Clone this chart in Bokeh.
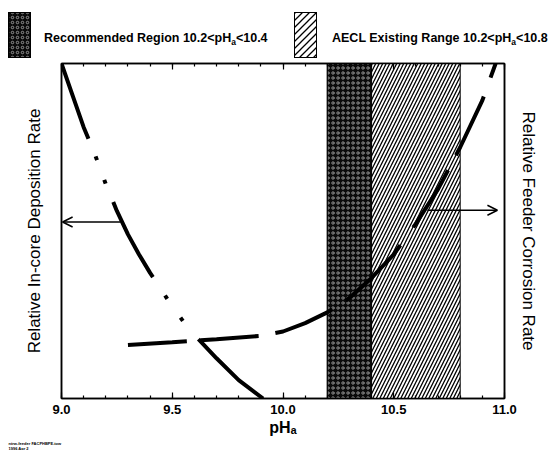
from bokeh.plotting import figure
from bokeh.models import (Range1d, LinearAxis, SingleIntervalTicker, FixedTicker,
                          Arrow, OpenHead, Title, Div)
from bokeh.layouts import column
from bokeh.embed import file_html
from bokeh.resources import INLINE

FONT = "Liberation Sans"

# ---------------- data ----------------
dep_ph = [9.00, 9.05, 9.10, 9.15, 9.20, 9.25, 9.30, 9.35, 9.40, 9.45, 9.50,
          9.55, 9.60, 9.70, 9.80, 9.91]
dep_rate = [1.00, 0.905, 0.81, 0.73, 0.64, 0.56, 0.49, 0.43, 0.375, 0.325,
            0.275, 0.23, 0.19, 0.12, 0.055, 0.0]

cor_ph = [9.30, 9.50, 9.70, 9.90, 10.00, 10.10, 10.20, 10.30, 10.40, 10.50,
          10.60, 10.70, 10.80, 10.90, 10.96]
cor_rate = [0.160, 0.168, 0.177, 0.187, 0.200, 0.225, 0.257, 0.300, 0.360,
            0.430, 0.522, 0.625, 0.750, 0.890, 1.000]

recommended_range = [10.2, 10.4]
aecl_range = [10.2, 10.8]

tick_values = [9.0, 9.5, 10.0, 10.5, 11.0]
tick_labels = ["9.0", "9.5", "10.0", "10.5", "11.0"]

dep_arrow = [9.266, 9.005, 0.527]    # start pH, end pH, level
cor_arrow = [10.652, 10.968, 0.562]  # start pH, end pH, level

legend_names = ["Recommended Region", "AECL Existing Range"]
x_label = "pH\u2090"
left_label = "Relative In-core Deposition Rate"
right_label = "Relative Feeder Corrosion Rate"
footnote = "ntrw-feeder FACPHBPE.tow\n1996 Apr 2"

# ---------------- legend strip (inline SVG in a Div) ----------------
W = 554
LEG_H = 60
MAIN_H = 450 - LEG_H


def legend_text(x, name, lo, hi):
    return (f'<text x="{x}" y="42" font-family="{FONT}" font-weight="bold" '
            f'font-size="12.5px" fill="black">{name} {lo}&lt;pH'
            f'<tspan dy="3" font-size="8.5px">a</tspan>'
            f'<tspan dy="-3">&lt;{hi}</tspan></text>')


legend_svg = f'''
<svg xmlns="http://www.w3.org/2000/svg" width="{W}" height="{LEG_H}" style="display:block">
 <defs>
  <pattern id="dk" width="5" height="5" patternUnits="userSpaceOnUse">
   <rect width="5" height="5" fill="#0a0a0a"/>
   <circle cx="2.5" cy="2.5" r="1.25" fill="none" stroke="white" stroke-width="0.5"/>
  </pattern>
  <pattern id="hb" width="7" height="7" patternUnits="userSpaceOnUse">
   <rect width="7" height="7" fill="white"/>
   <path d="M0,7 L7,0 M-1,1 L1,-1 M6,8 L8,6" stroke="black" stroke-width="1.3"/>
  </pattern>
 </defs>
 <rect x="8.5" y="12.5" width="22" height="45" fill="url(#dk)" stroke="black" stroke-width="1"/>
 {legend_text(44, legend_names[0], recommended_range[0], recommended_range[1])}
 <rect x="294.5" y="12.5" width="22" height="45" fill="url(#hb)" stroke="black" stroke-width="1"/>
 {legend_text(332, legend_names[1], aecl_range[0], aecl_range[1])}
</svg>'''

leg = Div(text=legend_svg, width=W, height=LEG_H,
          styles={"margin": "0", "padding": "0", "overflow": "visible"})

# ---------------- main plot ----------------
DARK = dict(fill_color="#0a0a0a", hatch_pattern="ring", hatch_color="white",
            hatch_scale=5, hatch_weight=0.5, line_color="black", line_width=1)
HATCH = dict(fill_color="white", hatch_pattern="/", hatch_color="black",
             hatch_scale=7, hatch_weight=1.3, line_color="black", line_width=1)

p = figure(width=W, height=MAIN_H, x_range=Range1d(9.0, 11.0), y_range=Range1d(0, 1),
           x_axis_type=None, y_axis_type=None, output_backend="svg",
           toolbar_location=None, min_border_left=61, min_border_right=50,
           min_border_top=3, min_border_bottom=49)
p.outline_line_color = "black"
p.outline_line_width = 1.5


def ticked_axis(**kw):
    return LinearAxis(ticker=SingleIntervalTicker(interval=0.5, num_minor_ticks=5),
                      major_tick_in=6, major_tick_out=0, minor_tick_in=3, minor_tick_out=0,
                      major_tick_line_width=1.2, minor_tick_line_width=1.2,
                      major_tick_line_color="black", minor_tick_line_color="black",
                      axis_line_width=1.5, axis_line_color="black", **kw)


bottom = ticked_axis(axis_label=x_label,
                     major_label_overrides={v: s for v, s in zip(tick_values, tick_labels)})
bottom.major_label_standoff = 6
bottom.major_label_text_font = FONT
bottom.major_label_text_font_style = "bold"
bottom.major_label_text_font_size = "13px"
bottom.major_label_text_color = "black"
bottom.axis_label_standoff = 2
bottom.axis_label_text_font = FONT
bottom.axis_label_text_font_style = "bold"
bottom.axis_label_text_font_size = "16px"
bottom.axis_label_text_color = "black"
p.add_layout(bottom, "below")

top = ticked_axis(major_label_overrides={v: "" for v in tick_values})
top.major_label_standoff = 0
top.major_label_text_font_size = "1px"
p.add_layout(top, "above")

for side, label, standoff in (("left", left_label, 18), ("right", right_label, 14)):
    ax = LinearAxis(ticker=FixedTicker(ticks=[]), axis_label=label,
                    major_tick_in=0, major_tick_out=0, minor_tick_in=0, minor_tick_out=0,
                    axis_line_width=1.5, axis_line_color="black", major_label_standoff=0)
    ax.axis_label_standoff = standoff
    ax.axis_label_text_font = FONT
    ax.axis_label_text_font_style = "normal"
    ax.axis_label_text_font_size = "17px"
    ax.axis_label_text_color = "black"
    p.add_layout(ax, side)

# regions
p.quad(left=[aecl_range[0]], right=[aecl_range[1]], bottom=[0], top=[1], **HATCH)
p.quad(left=[recommended_range[0]], right=[recommended_range[1]],
       bottom=[0], top=[1], **DARK)

# curves
p.line(dep_ph, dep_rate, line_width=4, line_color="black", line_cap="butt",
       line_dash="80 19 4 21 4 20 85 22 4 23 4 24 95")
p.line(cor_ph, cor_rate, line_width=4, line_color="black", line_cap="butt",
       line_dash="59 14 58 17 62 16 78 22 67 17 65 20 40")

# arrows
for a in (dep_arrow, cor_arrow):
    p.add_layout(Arrow(end=OpenHead(size=10, line_width=1.5, line_color="black"),
                       x_start=a[0], y_start=a[2], x_end=a[1], y_end=a[2],
                       line_width=1.5, line_color="black"))

# footnote under the axis (title panel, left of the frame)
p.add_layout(Title(text=footnote, align="left", offset=-53, standoff=0,
                   text_font=FONT, text_font_size="4px", text_font_style="bold",
                   text_color="black"), "below")

layout = column(leg, p, spacing=0)
open("out.html", "w").write(file_html(layout, INLINE))
